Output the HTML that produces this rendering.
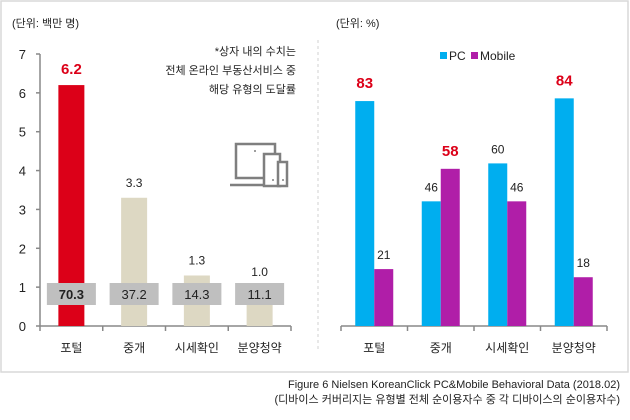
<!DOCTYPE html>
<html><head><meta charset="utf-8">
<style>
body{margin:0;width:630px;height:415px;background:#fff;overflow:hidden;font-family:"Liberation Sans","Noto Sans CJK KR",sans-serif;}
svg text{font-family:"Liberation Sans","Noto Sans CJK KR",sans-serif;}
</style></head>
<body>
<svg id="c" width="630" height="415" xmlns="http://www.w3.org/2000/svg">
<rect x="1" y="1" width="627" height="371" fill="none" stroke="#d9d9d9" stroke-width="1.5"/>
<line x1="318" y1="40" x2="318" y2="352" stroke="#d0d0d0" stroke-dasharray="3,3"/>
<text x="12" y="27" font-size="11" fill="#222">(단위: 백만 명)</text>
<text x="336" y="27" font-size="11" fill="#222">(단위: %)</text>
<g font-size="11" fill="#222" text-anchor="end">
<text x="296" y="55">*상자 내의 수치는</text>
<text x="296" y="74">전체 온라인 부동산서비스 중</text>
<text x="296" y="93">해당 유형의 도달률</text>
</g>
<g fill="none" stroke="#7f7f7f" stroke-width="2.5">
<rect x="236" y="144" width="39" height="34"/>
<line x1="230" y1="185" x2="265" y2="185"/>
<rect x="264" y="154" width="16" height="32" fill="#fff"/>
<rect x="278" y="162" width="9" height="24" fill="#fff"/>
<circle cx="255" cy="151" r="1" fill="#7f7f7f" stroke="none"/>
<circle cx="273" cy="180" r="1" fill="#7f7f7f" stroke="none"/>
<circle cx="283" cy="180" r="1" fill="#7f7f7f" stroke="none"/>
</g>
<g id="left"></g>
<g id="right"></g>
<text x="620" y="388" font-size="11" fill="#222" text-anchor="end">Figure 6 Nielsen KoreanClick PC&amp;Mobile Behavioral Data (2018.02)</text>
<text x="620" y="403" font-size="11" fill="#222" text-anchor="end">(디바이스 커버리지는 유형별 전체 순이용자수 중 각 디바이스의 순이용자수)</text>
</svg>
<script>
const categories=["포털","중개","시세확인","분양청약"];
const users=[6.2,3.3,1.3,1.0];
const reach=["70.3","37.2","14.3","11.1"];
const leftTicks=[0,1,2,3,4,5,6,7];
const pcValues=[83,46,60,84];
const mobileValues=[21,58,46,18];
const pcHighlight=[true,false,false,true];
const mobileHighlight=[false,true,false,false];

const NS="http://www.w3.org/2000/svg";
function mk(parent,tag,attrs,txt){const e=document.createElementNS(NS,tag);for(const k in attrs)e.setAttribute(k,attrs[k]);if(txt!=null)e.textContent=txt;parent.appendChild(e);return e;}
const L=document.getElementById('left'),R=document.getElementById('right');
const base=326;
const lx0=40,lx1=291,lStep=(lx1-lx0)/categories.length;
const ly=v=>base-v*(base-54)/7;
const lxc=i=>lx0+lStep*(i+0.5);
let e=mk(L,'line',{x1:lx0,y1:ly(7),x2:lx0,y2:base,stroke:'#888','stroke-width':1.5});

e=mk(L,'line',{x1:lx0,y1:base,x2:lx1,y2:base,stroke:'#888','stroke-width':1.5});

leftTicks.forEach(t=>{
 mk(L,'line',{x1:lx0-4,y1:ly(t),x2:lx0,y2:ly(t),stroke:'#888','stroke-width':1.5});
 e=mk(L,'text',{x:26,y:ly(t)+5,'font-size':13,'text-anchor':'end',fill:'#222'},t);
 
});
for(let i=0;i<=categories.length;i++)mk(L,'line',{x1:lx0+lStep*i,y1:base,x2:lx0+lStep*i,y2:base+5,stroke:'#888','stroke-width':1.5});
categories.forEach((c,i)=>{
 const cx=lxc(i),v=users[i];
 e=mk(L,'rect',{x:cx-13,y:ly(v),width:26,height:base-ly(v),fill:i===0?'#DC0018':'#DDD8C3'});
 
 e=mk(L,'text',{x:cx,y:ly(v)-11,'font-size':i===0?15:12,'font-weight':i===0?'bold':'normal','text-anchor':'middle',fill:i===0?'#DC0018':'#222'},v.toFixed(1));
 
 e=mk(L,'rect',{x:cx-24.5,y:283,width:49,height:22,fill:'#BFBFBF'});
 
 e=mk(L,'text',{x:cx,y:299,'font-size':13,'font-weight':i===0?'bold':'normal','text-anchor':'middle',fill:'#222'},reach[i]);
 
 e=mk(L,'text',{x:cx,y:352,'font-size':12,'text-anchor':'middle',fill:'#222'},c);
 
});
const rx0=341,rx1=607,rStep=(rx1-rx0)/categories.length;
const ry=v=>base-v*(base-55)/100;
const bw=19;
e=mk(R,'line',{x1:rx0,y1:base,x2:rx1,y2:base,stroke:'#888','stroke-width':1.5});

for(let i=0;i<=categories.length;i++)mk(R,'line',{x1:rx0+rStep*i,y1:base,x2:rx0+rStep*i,y2:base+5,stroke:'#888','stroke-width':1.5});
categories.forEach((c,i)=>{
 const cx=rx0+rStep*(i+0.5);
 [[pcValues,pcHighlight,'#00AEEF',-bw,'pc'],[mobileValues,mobileHighlight,'#B01EA8',0,'mobile']].forEach(([vals,hl,col,off,nm])=>{
  const v=vals[i];
  e=mk(R,'rect',{x:cx+off,y:ry(v),width:bw,height:base-ry(v),fill:col});
  
  const h=hl[i];
  e=mk(R,'text',{x:cx+off+bw/2,y:ry(v)-(h?13:10),'font-size':h?15:12,'font-weight':h?'bold':'normal','text-anchor':'middle',fill:h?'#DC0018':'#222'},v);
  
 });
 e=mk(R,'text',{x:cx,y:352,'font-size':12,'text-anchor':'middle',fill:'#222'},c);
 
});
e=mk(R,'rect',{x:440,y:52,width:7,height:7,fill:'#00AEEF'});

e=mk(R,'text',{x:449,y:60,'font-size':12,fill:'#222'},'PC');

e=mk(R,'rect',{x:471,y:52,width:7,height:7,fill:'#B01EA8'});

e=mk(R,'text',{x:480,y:60,'font-size':12,fill:'#222'},'Mobile');

</script>
</body></html>
